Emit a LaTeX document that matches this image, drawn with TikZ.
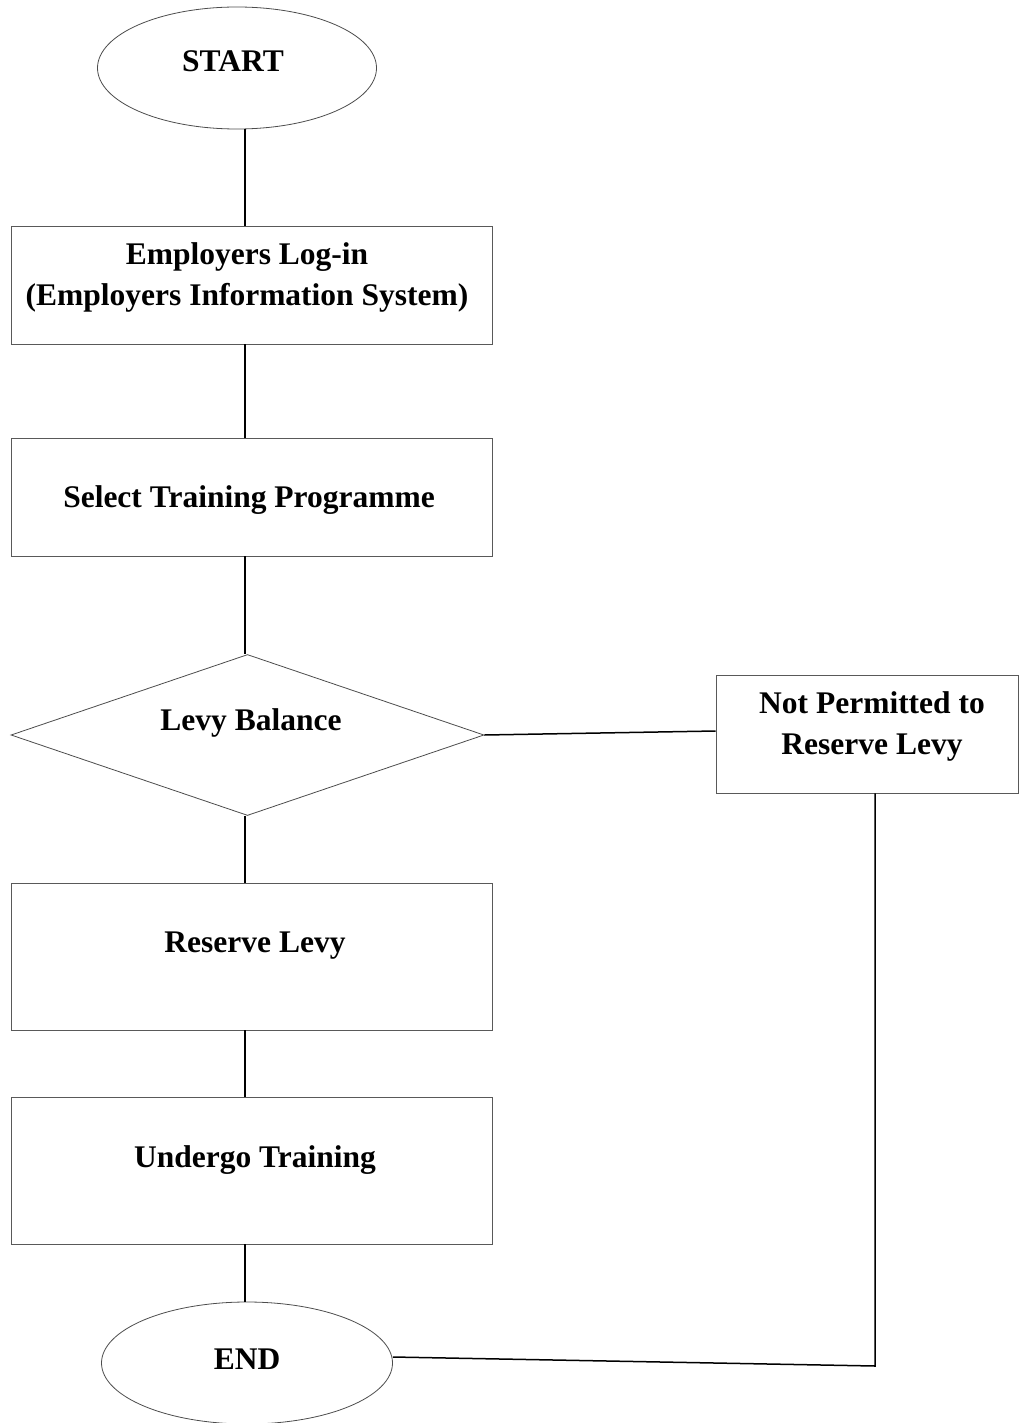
\documentclass[tikz,border=0pt]{standalone}
\usepackage{fontspec}
\setmainfont{Liberation Serif}
\usetikzlibrary{shapes.geometric}
\begin{document}
\begin{tikzpicture}[x=1pt,y=-1pt,
  boxshape/.style={draw=black!65, line width=0.9pt, rectangle, inner sep=0pt},
  ovalshape/.style={draw=black!70, line width=0.8pt, ellipse, inner sep=0pt},
  diashape/.style={draw=black!70, line width=0.8pt, diamond, inner sep=0pt},
  lbl/.style={font=\fontsize{31.5}{41}\selectfont\bfseries, align=center, inner sep=0pt},
  conn/.style={draw=black, line width=1.5pt}]
\useasboundingbox (0,0) rectangle (1023,1423);
% shapes
\node[ovalshape, minimum width=279pt, minimum height=122pt] (start) at (237,68) {};
\node[boxshape, minimum width=481pt, minimum height=118pt] (b1) at (251.5,285) {};
\node[boxshape, minimum width=481pt, minimum height=118pt] (b2) at (251.5,497) {};
\node[diashape, minimum width=473pt, minimum height=161pt] (dia) at (247.5,735) {};
\node[boxshape, minimum width=302pt, minimum height=118pt] (np) at (867,734) {};
\node[boxshape, minimum width=481pt, minimum height=147pt] (b3) at (251.5,956.5) {};
\node[boxshape, minimum width=481pt, minimum height=147pt] (b4) at (251.5,1170.5) {};
\node[ovalshape, minimum width=291pt, minimum height=122pt] (end) at (247,1363) {};
% texts
\node[lbl] (tstart) at (233,61) {START};
\node[lbl] (t1) at (247,277) {Employers Log-in\\(Employers Information System)};
\node[lbl] (t2) at (249,500) {Select Training Programme};
\node[lbl] (tdia) at (251,723) {Levy Balance};
\node[lbl] (tnp) at (872,726) {Not Permitted to\\Reserve Levy};
\node[lbl] (t3) at (255,946) {Reserve Levy};
\node[lbl] (t4) at (255,1160) {Undergo Training};
\node[lbl] (tend) at (247,1359) {END};
% connectors
\coordinate (ax) at (245,0);
\coordinate (corner) at (875,1366);
\draw[conn] (start.south -| ax) -- (b1.north -| ax);
\draw[conn] (b1.south -| ax) -- (b2.north -| ax);
\draw[conn] (b2.south -| ax) -- (dia.north -| ax);
\draw[conn] (dia.south -| ax) -- (b3.north -| ax);
\draw[conn] (b3.south -| ax) -- (b4.north -| ax);
\draw[conn] (b4.south -| ax) -- (end.north -| ax);
\draw[conn] (dia.east) -- ([yshift=3pt]np.west);
\draw[conn] (np.south -| corner) -- (corner) -- ([yshift=6pt]end.east);
\end{tikzpicture}
\end{document}
